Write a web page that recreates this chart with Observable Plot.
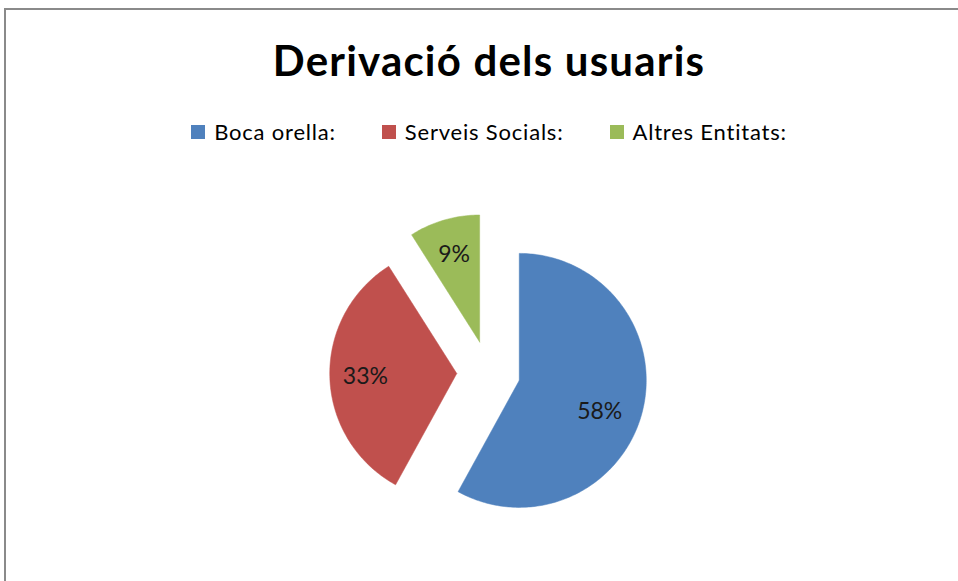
<!DOCTYPE html>
<html>
<head>
<meta charset="utf-8">
<script src="https://cdn.jsdelivr.net/npm/d3@7"></script>
<script src="https://cdn.jsdelivr.net/npm/@observablehq/plot@0.6"></script>
<style>
  html, body { margin: 0; padding: 0; background: #fff; }
  #page { position: relative; width: 958px; height: 581px; overflow: hidden; font-family: Lato, "Open Sans", sans-serif; }
  #frame { position: absolute; left: 4px; top: 8px; width: 980px; height: 600px; border-top: 2px solid #8a8a8a; border-left: 2px solid #8a8a8a; box-sizing: border-box; }
  #title { position: absolute; left: 20px; top: 39px; width: 938px; text-align: center; font-size: 42px; letter-spacing: 1.2px; font-weight: 700; line-height: 1; color: #000; }
  #legend { position: absolute; left: 20px; top: 121px; width: 938px; display: flex; justify-content: center; gap: 46px; font-size: 22px; letter-spacing: 0.8px; line-height: 1; color: #000; }
  .item { display: flex; align-items: center; }
  .sw { width: 14px; height: 14px; margin-right: 9px; }
  #chart { position: absolute; left: 0; top: 150px; }
</style>
</head>
<body>
<div id="page">
  <div id="frame"></div>
  <div id="title"></div>
  <div id="legend"></div>
  <div id="chart"></div>
</div>
<script>
// ---- data ----
const title = "Derivació dels usuaris";
const categories = ["Boca orella:", "Serveis Socials:", "Altres Entitats:"];
const values = [58, 33, 9];
const labels = ["58%", "33%", "9%"];
const colors = ["#4F81BD", "#C0504D", "#9BBB59"];

// ---- layout constants ----
const W = 958, H = 431;
const R = 127;            // pie radius in px
const cx = 488, cy = 222; // pie centre in svg px
const explode = 0.25;     // explosion offset (radius units)
const labelR = 0.72;

document.getElementById("title").textContent = title;
const legend = document.getElementById("legend");
categories.forEach((c, i) => {
  const it = document.createElement("div");
  it.className = "item";
  const sw = document.createElement("div");
  sw.className = "sw";
  sw.style.background = colors[i];
  const t = document.createElement("span");
  t.textContent = c;
  it.appendChild(sw); it.appendChild(t);
  legend.appendChild(it);
});

// build slice polygons (angle clockwise from 12 o'clock, y up)
const total = d3.sum(values);
const poly = [];
const labelPts = [];
let a0 = 0;
values.forEach((v, i) => {
  const a1 = a0 + v / total * 2 * Math.PI;
  const mid = (a0 + a1) / 2;
  const ox = explode * Math.sin(mid), oy = explode * Math.cos(mid);
  poly.push({cat: categories[i], x: ox, y: oy});
  const n = Math.max(4, Math.ceil((a1 - a0) / (Math.PI / 180)));
  for (let k = 0; k <= n; k++) {
    const a = a0 + (a1 - a0) * k / n;
    poly.push({cat: categories[i], x: ox + Math.sin(a), y: oy + Math.cos(a)});
  }
  poly.push({cat: categories[i], x: ox, y: oy});
  // Excel nudges the large slice's label slightly lower
  const la = i === 0 ? mid + 0.12 : mid;
  const lr = i === 0 ? 0.68 : labelR;
  labelPts.push({label: labels[i], x: ox + lr * Math.sin(la), y: oy + lr * Math.cos(la)});
  a0 = a1;
});

const chart = Plot.plot({
  width: W,
  height: H,
  margin: 0,
  style: {background: "transparent", overflow: "visible"},
  x: {domain: [-cx / R, (W - cx) / R], axis: null},
  y: {domain: [-(H - cy) / R, cy / R], axis: null},
  color: {domain: categories, range: colors},
  marks: [
    Plot.line(poly, {x: "x", y: "y", z: "cat", fill: "cat", stroke: "cat", strokeWidth: 0.5, curve: "linear"}),
    Plot.text(labelPts, {x: "x", y: "y", text: "label", fontSize: 23, fill: "#1a1a1a", fontFamily: "Lato, 'Open Sans', sans-serif"})
  ]
});
document.getElementById("chart").appendChild(chart);
</script>
</body>
</html>
